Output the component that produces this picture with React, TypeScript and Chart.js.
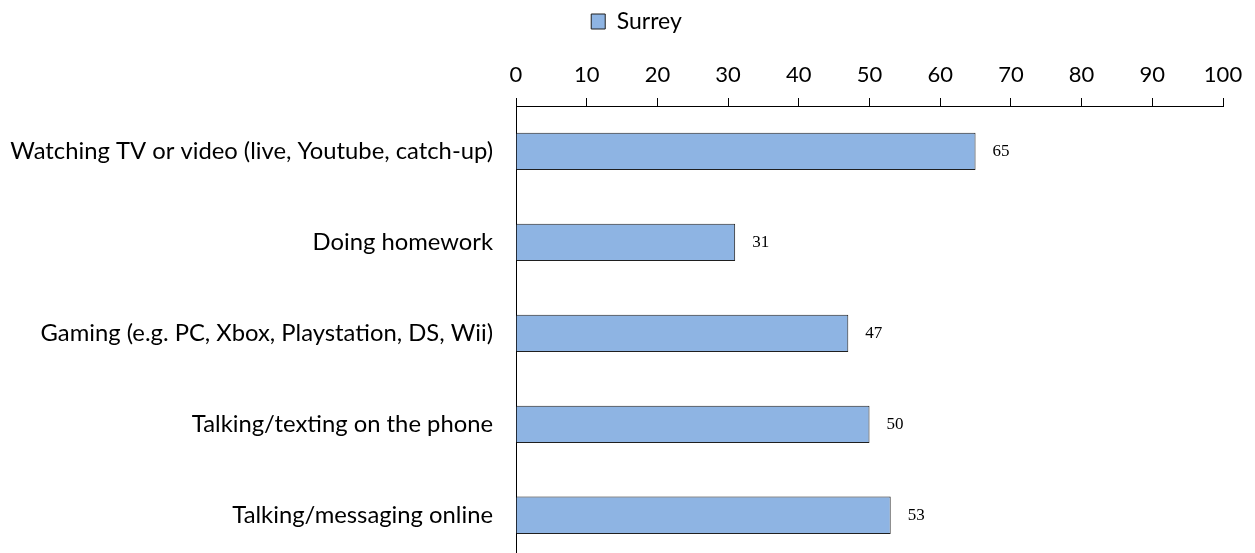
import React, { useEffect, useRef } from "react";
import { Chart, registerables } from "chart.js";

Chart.register(...registerables);

const categories = [
  "Watching TV or video (live, Youtube, catch-up)",
  "Doing homework",
  "Gaming (e.g. PC, Xbox, Playstation, DS, Wii)",
  "Talking/texting on the phone",
  "Talking/messaging online",
];
const surreyValues = [65, 31, 47, 50, 53];
const seriesName = "Surrey";
const axisMin = 0;
const axisMax = 100;
const axisStep = 10;

const FONT = "Lato, 'Open Sans', sans-serif";

const valueLabels = {
  id: "valueLabels",
  afterDatasetsDraw(chart: any) {
    const ctx = chart.ctx;
    ctx.save();
    ctx.font = "17px 'Liberation Serif', serif";
    ctx.fillStyle = "#000";
    ctx.textAlign = "left";
    ctx.textBaseline = "middle";
    chart.data.datasets.forEach((ds: any, di: number) => {
      const meta = chart.getDatasetMeta(di);
      meta.data.forEach((el: any, i: number) => {
        ctx.fillText(String(ds.data[i]), el.x + 17, el.y);
      });
    });
    ctx.restore();
  },
};

const legendShift = {
  id: "legendShift",
  afterLayout(chart: any) {
    if (chart.legend) {
      chart.legend.left += 25;
      chart.legend.right += 25;
    }
  },
};

export default function App() {
  const ref = useRef<HTMLCanvasElement>(null);
  useEffect(() => {
    if (!ref.current) return;
    const chart = new Chart(ref.current, {
      type: "bar",
      data: {
        labels: categories,
        datasets: [
          {
            label: seriesName,
            data: surreyValues,
            backgroundColor: "#8EB4E3",
            borderColor: "#1F1F1F",
            borderWidth: 1,
            barPercentage: 0.41,
            categoryPercentage: 1,
          },
        ],
      },
      options: {
        indexAxis: "y",
        responsive: false,
        animation: false,
        devicePixelRatio: 1,
        layout: { padding: { left: 0, right: 32, top: 0, bottom: 16 } },
        plugins: {
          legend: {
            display: true,
            position: "top",
            labels: {
              font: { family: FONT, size: 23 },
              color: "#000",
              boxWidth: 14,
              boxHeight: 15,
              padding: 10,
            },
          },
          tooltip: { enabled: false },
        },
        scales: {
          x: {
            position: "top",
            min: axisMin,
            max: axisMax,
            ticks: {
              stepSize: axisStep,
              font: { family: FONT, size: 22 },
              color: "#000",
              padding: 10,
              maxRotation: 0,
            },
            grid: {
              display: true,
              drawOnChartArea: false,
              drawTicks: true,
              tickLength: 8,
              color: "#000",
            },
            border: { display: true, color: "#000", width: 1 },
            afterFit(scale: any) {
              scale.height = 63;
            },
          },
          y: {
            ticks: {
              font: { family: FONT, size: 23.8 },
              color: "#000",
              padding: 23,
            },
            grid: { display: false, drawTicks: false },
            border: { display: true, color: "#000", width: 1 },
            afterFit(scale: any) {
              scale.width = 516;
            },
          },
        },
      },
      plugins: [valueLabels, legendShift],
    });
    return () => chart.destroy();
  }, []);
  return (
    <div style={{ position: "absolute", left: 0, top: 0, width: 1255, height: 598, background: "#fff" }}>
      <canvas ref={ref} width={1255} height={598} />
    </div>
  );
}
